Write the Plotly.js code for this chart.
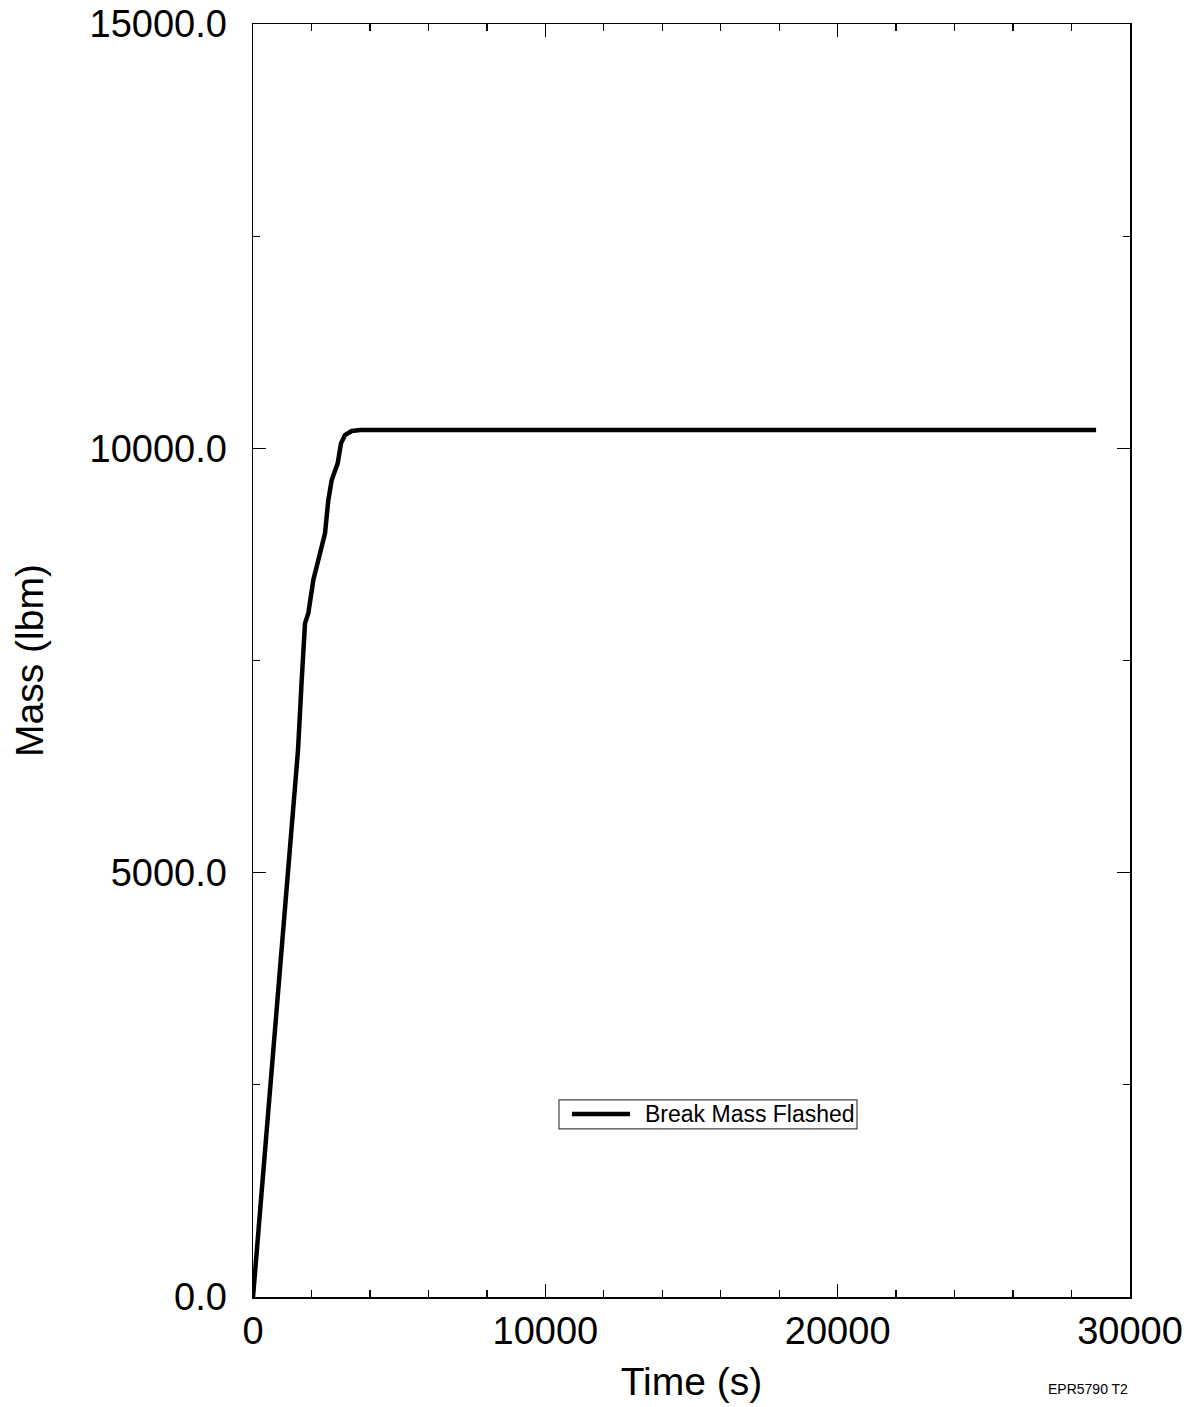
<!DOCTYPE html>
<html>
<head>
<meta charset="utf-8">
<script src="https://cdn.plot.ly/plotly-3.0.1.min.js"></script>
<style>html,body{margin:0;padding:0;background:#fff;}#chart{width:1194px;height:1407px;}</style>
</head>
<body>
<div id="chart"></div>
<script>
// Time (s)
var timeS = [0, 411, 695, 981, 1266, 1540, 1666, 1779, 1892, 2007, 2063, 2235, 2463, 2577, 2692, 2897, 3010, 3147, 3376, 3660, 10000, 20000, 28840];
// Break mass flashed (lbm)
var massLbm = [0, 1732, 2910, 4089, 5267, 6445, 7270, 7938, 8056, 8291, 8448, 8684, 8998, 9391, 9627, 9823, 10059, 10157, 10204, 10216, 10216, 10216, 10216];
var seriesName = "Break Mass Flashed";
var xTicks = [0, 10000, 20000, 30000];
var yTicks = [0, 5000, 10000, 15000];
var stampText = "EPR5790 T2";

var FONT = "Liberation Sans, Arial, Helvetica, sans-serif";

var trace = {
  x: timeS, y: massLbm, mode: "lines", name: seriesName,
  line: {color: "#000", width: 4.5}, showlegend: false
};

var axisCommon = {
  showgrid: false, zeroline: false, showline: true, linecolor: "#000", linewidth: 1.5,
  mirror: "ticks", ticks: "inside", ticklen: 13, tickwidth: 1.3, tickcolor: "#000",
  tickfont: {family: FONT, size: 38, color: "#000"}
};

// legend box geometry in paper fractions of the plot area
var legL = 0.3489, legR = 0.6887, legB = 0.1320, legT = 0.1548;
var legLineL = 0.3637, legLineR = 0.4299, legMid = 0.1438, legTextX = 0.4447;

var layout = {
  width: 1194, height: 1407,
  paper_bgcolor: "#fff", plot_bgcolor: "#fff",
  margin: {l: 253, r: 64, t: 24, b: 110},
  showlegend: false,
  xaxis: Object.assign({}, axisCommon, {
    range: [0, 30000], tickvals: xTicks, tickformat: "d",
    ticklabelstandoff: 0,
    minor: {dtick: 2000, ticks: "inside", ticklen: 7, tickwidth: 1.3, tickcolor: "#000"},
    title: {text: "Time (s)", font: {family: FONT, size: 39, color: "#000"}, standoff: 16}
  }),
  yaxis: Object.assign({}, axisCommon, {
    range: [0, 15000], tickvals: yTicks, tickformat: ".1f",
    ticklabelstandoff: 17,
    minor: {dtick: 2500, ticks: "inside", ticklen: 7, tickwidth: 1.3, tickcolor: "#000"},
    title: {text: "Mass (lbm)", font: {family: FONT, size: 39, color: "#000"}, standoff: 34}
  }),
  shapes: [
    {type: "rect", xref: "paper", yref: "paper", x0: legL, x1: legR, y0: legB, y1: legT,
     line: {color: "#444", width: 1.2}, fillcolor: "#fff", layer: "above"},
    {type: "line", xref: "paper", yref: "paper", x0: legLineL, x1: legLineR, y0: legMid, y1: legMid,
     line: {color: "#000", width: 4.5}, layer: "above"}
  ],
  annotations: [
    {text: seriesName, xref: "paper", yref: "paper", x: legTextX, y: legMid,
     xanchor: "left", yanchor: "middle", showarrow: false,
     font: {family: FONT, size: 23, color: "#000"}},
    {text: stampText, xref: "paper", yref: "paper", x: 1.0, y: -0.072,
     xanchor: "right", yanchor: "middle", showarrow: false,
     font: {family: FONT, size: 14, color: "#000"}}
  ]
};

Plotly.newPlot("chart", [trace], layout, {displayModeBar: false, staticPlot: true});
</script>
</body>
</html>
